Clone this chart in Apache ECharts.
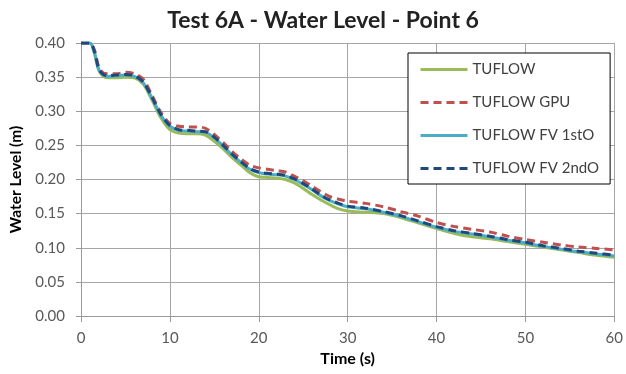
<!DOCTYPE html>
<html>
<head>
<meta charset="utf-8">
<script src="https://cdn.jsdelivr.net/npm/echarts@6/dist/echarts.min.js"></script>
<style>html,body{margin:0;padding:0;background:#fff}#c{width:626px;height:374px}</style>
</head>
<body>
<div id="c"></div>
<script>
const times = [0,1,1.5,2,2.5,3,4,5,6,7,8,9,10,11,12,13,14,15,16,17,18,19,20,21,22,23,24,25,26,27,28,29,30,32,34,36,38,40,42,44,46,48,50,52,54,56,58,60];
const tuflow = [0.400,0.400,0.385,0.360,0.351,0.349,0.349,0.350,0.349,0.340,0.316,0.290,0.273,0.268,0.267,0.267,0.265,0.256,0.245,0.232,0.221,0.210,0.204,0.203,0.202,0.200,0.195,0.187,0.178,0.170,0.163,0.157,0.154,0.152,0.150,0.144,0.136,0.128,0.121,0.116,0.113,0.109,0.105,0.101,0.097,0.093,0.089,0.086];
const tuflowGpu = [0.400,0.400,0.390,0.365,0.356,0.355,0.355,0.357,0.355,0.347,0.323,0.298,0.282,0.278,0.277,0.277,0.275,0.266,0.254,0.241,0.230,0.221,0.217,0.215,0.213,0.211,0.205,0.198,0.190,0.182,0.175,0.171,0.168,0.165,0.160,0.153,0.146,0.137,0.131,0.127,0.123,0.117,0.112,0.108,0.104,0.101,0.099,0.097];
const fv1 = [0.400,0.400,0.387,0.361,0.353,0.351,0.352,0.353,0.351,0.342,0.319,0.294,0.278,0.272,0.271,0.270,0.269,0.261,0.249,0.236,0.225,0.215,0.210,0.208,0.207,0.205,0.200,0.193,0.185,0.176,0.169,0.164,0.160,0.157,0.152,0.146,0.138,0.130,0.124,0.120,0.116,0.111,0.107,0.102,0.098,0.094,0.091,0.088];
const fv2 = [0.400,0.400,0.388,0.362,0.354,0.352,0.353,0.354,0.352,0.343,0.320,0.295,0.279,0.273,0.272,0.271,0.270,0.262,0.250,0.237,0.226,0.216,0.211,0.209,0.208,0.206,0.201,0.194,0.186,0.177,0.170,0.165,0.161,0.158,0.153,0.147,0.139,0.131,0.125,0.121,0.117,0.112,0.108,0.103,0.099,0.095,0.092,0.089];
const seriesNames = ['TUFLOW','TUFLOW GPU','TUFLOW FV 1stO','TUFLOW FV 2ndO'];
const xTicks = [0,10,20,30,40,50,60];
const yTicks = [0,0.05,0.10,0.15,0.20,0.25,0.30,0.35,0.40];

const FONT = 'Lato';
const pair = arr => times.map((t,i)=>[t,arr[i]]);
const chart = echarts.init(document.getElementById('c'), null, {renderer:'canvas'});
const mk = (name, data, color, type) => ({
  name, type:'line', data: pair(data), showSymbol:false, symbol:'none', smooth:0.3,
  lineStyle:{color, width:3, type: type, dashOffset:0},
  itemStyle:{color}
});
chart.setOption({
  animation:false,
  backgroundColor:'#fff',
  title:{text:'Test 6A - Water Level - Point 6', left:318, top:4, textAlign:'center',
    textStyle:{fontFamily:FONT, fontSize:23, fontWeight:'bold', color:'#222'}},
  grid:{left:80, right:8.5, top:43, bottom:58},
  legend:{
    orient:'vertical', left:408, top:53, data:seriesNames,
    itemWidth:47, itemHeight:14, itemGap:18,
    padding:[9,11,8,11],
    itemStyle:{opacity:0},
    lineStyle:{width:3},
    borderColor:'#000', borderWidth:1, backgroundColor:'#fff',
    textStyle:{fontFamily:FONT, fontSize:15, color:'#404040'}
  },
  xAxis:{type:'value', min:0, max:60, interval:10,
    name:'Time (s)', nameLocation:'middle', nameGap:32,
    nameTextStyle:{fontFamily:FONT, fontSize:16, fontWeight:'bold', color:'#000'},
    axisLine:{lineStyle:{color:'#9a9a9a'}},
    axisTick:{show:true, length:6, lineStyle:{color:'#9a9a9a'}},
    axisLabel:{fontFamily:FONT, fontSize:15, color:'#595959', margin:15, formatter:v=>String(v)},
    splitLine:{show:true, lineStyle:{color:'#a6a6a6'}}
  },
  yAxis:{type:'value', min:0, max:0.4, interval:0.05,
    name:'Water Level (m)', nameLocation:'middle', nameGap:57, nameRotate:90,
    nameTextStyle:{fontFamily:FONT, fontSize:15.5, fontWeight:'bold', color:'#000'},
    axisLine:{show:true, lineStyle:{color:'#9a9a9a'}},
    axisTick:{show:true, length:5, lineStyle:{color:'#9a9a9a'}},
    axisLabel:{fontFamily:FONT, fontSize:15, color:'#595959', margin:16, formatter:v=>v.toFixed(2)},
    splitLine:{show:true, lineStyle:{color:'#a6a6a6'}}
  },
  series:[
    mk(seriesNames[0], tuflow, '#9BBB59', 'solid'),
    mk(seriesNames[1], tuflowGpu, '#C0504D', [8,5]),
    mk(seriesNames[2], fv1, '#4BACC6', 'solid'),
    mk(seriesNames[3], fv2, '#1F497D', [8,5])
  ]
});
</script>
</body>
</html>
